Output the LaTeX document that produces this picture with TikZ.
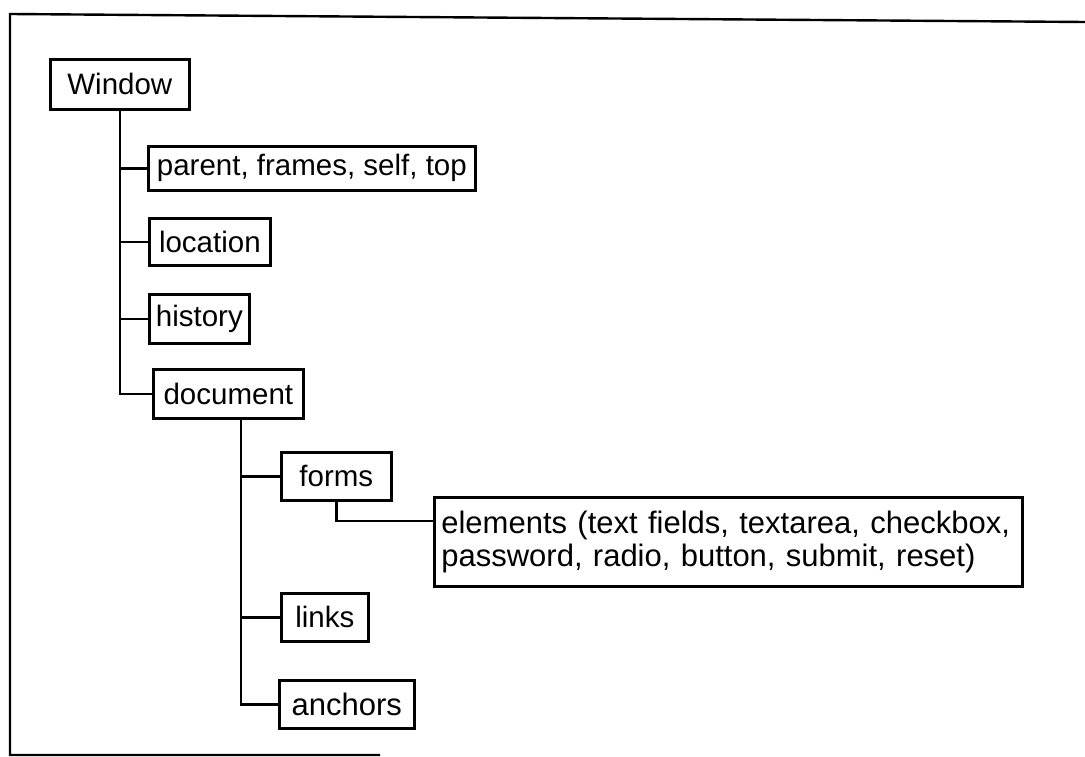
\documentclass[tikz,border=0pt]{standalone}
\usepackage{fontspec}
\setmainfont{Liberation Sans}
\begin{document}
\begin{tikzpicture}[x=1pt,y=-1pt,
  box/.style={draw=black,line width=2.7pt,anchor=north west,inner sep=0pt,
    font=\fontsize{29.5}{33}\selectfont},
  conn/.style={draw=black,line width=2.7pt},
  frame/.style={draw=black,line width=2.4pt}]
\useasboundingbox (0,0) rectangle (1085,757);
\draw[frame] (1085,22) -- (10,14) -- (10,755) -- (380,755);
\node[box,minimum width=139pt,minimum height=50pt] (window) at (49,58) {Window};
\node[box,minimum width=327pt,minimum height=44pt] (parent) at (147,145) {parent, frames, self, top};
\node[box,minimum width=121pt,minimum height=47pt] (location) at (148,217) {location};
\node[box,minimum width=100pt,minimum height=49pt] (history) at (148,293) {history};
\node[box,minimum width=150pt,minimum height=49pt] (document) at (152,368) {document};
\node[box,minimum width=110pt,minimum height=48pt] (forms) at (280,451) {forms};
\node[box,minimum width=588pt,minimum height=89pt,align=left,text width=574pt,inner xsep=7pt,
  font=\fontsize{31}{33}\selectfont] (elements) at (433,496) {elements (text fields, textarea, checkbox,\\password, radio, button, submit, reset)};
\node[box,minimum width=87pt,minimum height=48pt] (links) at (280,592) {links};
\node[box,minimum width=135pt,minimum height=48pt,font=\fontsize{31}{33}\selectfont] (anchors) at (278,679) {anchors};
\coordinate (t2) at (241,417);
% window trunk
\draw[conn] (window.south) |- (document.west);
\draw[conn] (window.south |- parent.west) -- (parent.west);
\draw[conn] (window.south |- location.west) -- (location.west);
\draw[conn] (window.south |- history.west) -- (history.west);
% document trunk
\draw[conn] (t2) |- (anchors.west);
\draw[conn] (t2 |- forms.west) -- (forms.west);
\draw[conn] (t2 |- links.west) -- (links.west);
% forms to elements
\draw[conn] (forms.south) |- ([yshift=21pt]elements.west);
\end{tikzpicture}
\end{document}
